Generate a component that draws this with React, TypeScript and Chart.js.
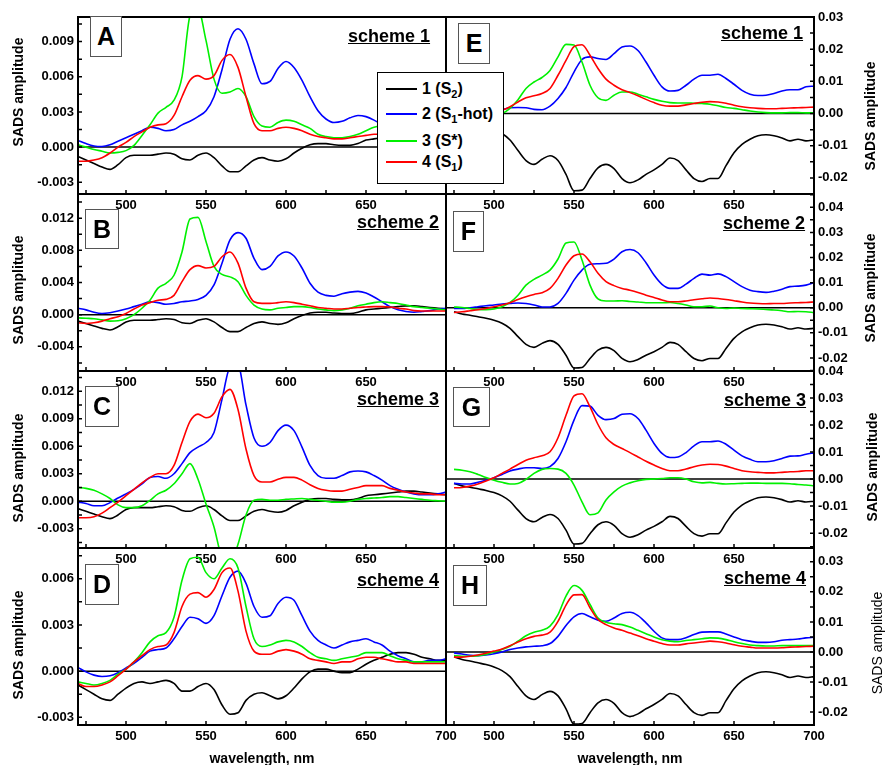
import React, { useEffect, useRef } from 'react';
import { Chart, registerables } from 'chart.js';
Chart.register(...registerables);

const FONT = '"Liberation Sans", Arial, Helvetica, sans-serif';

// ---------- data ----------
const WL_LEFT = [470, 475, 480, 485, 490, 495, 500, 505, 510, 515, 520, 525, 530, 535, 540, 545, 550, 555, 560, 565, 570, 575, 580, 585, 590, 595, 600, 605, 610, 615, 620, 625, 630, 635, 640, 645, 650, 655, 660, 665, 670, 675, 680, 685, 690, 695, 700];
const WL_RIGHT = [475, 480, 485, 490, 495, 500, 505, 510, 515, 520, 525, 530, 535, 540, 545, 550, 555, 560, 565, 570, 575, 580, 585, 590, 595, 600, 605, 610, 615, 620, 625, 630, 635, 640, 645, 650, 655, 660, 665, 670, 675, 680, 685, 690, 695, 700];

const X_LABELS_UPPER = [500, 550, 600, 650];
const X_LABELS_LOWER = [500, 550, 600, 650, 700];
const X_TICK_MARKS = [475, 500, 525, 550, 575, 600, 625, 650, 675, 700];

const Y_TICKS_A = [-0.003, 0, 0.003, 0.006, 0.009];
const Y_TICKS_B = [-0.004, 0, 0.004, 0.008, 0.012];
const Y_TICKS_C = [-0.003, 0, 0.003, 0.006, 0.009, 0.012];
const Y_TICKS_D = [-0.003, 0, 0.003, 0.006];
const Y_TICKS_E = [-0.02, -0.01, 0, 0.01, 0.02, 0.03];
const Y_TICKS_F = [-0.02, -0.01, 0, 0.01, 0.02, 0.03, 0.04];
const Y_TICKS_G = [-0.02, -0.01, 0, 0.01, 0.02, 0.03, 0.04];
const Y_TICKS_H = [-0.02, -0.01, 0, 0.01, 0.02, 0.03];

// left panels (470-700 nm)
const BLACK_ABC = [
  -0.0008, -0.0011, -0.0014, -0.0017, -0.0019, -0.0015, -0.0009, -0.0007, -0.0007, -0.0007,
  -0.0006, -0.0005, -0.0006, -0.001, -0.0011, -0.0007, -0.0005, -0.0009, -0.0016, -0.0021,
  -0.0021, -0.0016, -0.0011, -0.0009, -0.0011, -0.0012, -0.001, -0.0005, -0.0001, 0.0002,
  0.0003, 0.0003, 0.0002, 0.00015, 0.00015, 0.0003, 0.0006, 0.0007, 0.0008, 0.0009,
  0.001, 0.0011, 0.0011, 0.001, 0.0009, 0.0008, 0.0007];
const BLUE_A = [
  0.00057, 0.0003, 0.0001, 0.00005, 0.0002, 0.0005, 0.0008, 0.0011, 0.0014, 0.0017,
  0.0016, 0.0014, 0.0015, 0.0019, 0.0022, 0.0026, 0.0031, 0.0043, 0.0066, 0.0092,
  0.0101, 0.0092, 0.0071, 0.0054, 0.0056, 0.0067, 0.0073, 0.0068, 0.0057, 0.0043,
  0.0031, 0.0024, 0.0021, 0.0022, 0.0025, 0.0027, 0.0026, 0.0023, 0.0019, 0.0014,
  0.001, 0.0007, 0.0005, 0.0004, 0.0005, 0.0006, 0.0008];
const GREEN_A = [
  0.0002, 0.0, -0.0002, -0.00035, -0.0005, -0.00045, -0.0003, 0.00015, 0.001, 0.0019,
  0.0029, 0.0034, 0.004, 0.006, 0.0112, 0.0118, 0.0091, 0.0058, 0.0046, 0.0047,
  0.005, 0.0043, 0.0026, 0.0018, 0.0017, 0.0021, 0.0023, 0.0022, 0.0019, 0.0016,
  0.0011, 0.0009, 0.0008, 0.0008, 0.0009, 0.0011, 0.0014, 0.0017, 0.0018, 0.0018,
  0.0017, 0.0015, 0.0012, 0.001, 0.0008, 0.0007, 0.0006];
const RED_A = [
  -0.0012, -0.0012, -0.0011, -0.0009, -0.0005, 0.0, 0.0004, 0.0009, 0.0013, 0.0017,
  0.0019, 0.002, 0.0027, 0.0043, 0.0057, 0.0061, 0.0058, 0.0061, 0.0074, 0.0079,
  0.0068, 0.0043, 0.002, 0.0014, 0.0014, 0.0016, 0.0017, 0.0016, 0.0014, 0.0011,
  0.0009, 0.0008, 0.0007, 0.0007, 0.0008, 0.0009, 0.001, 0.0011, 0.0011, 0.001,
  0.001, 0.0009, 0.0008, 0.0007, 0.0006, 0.0006, 0.0005];
const BLUE_B = [
  0.0008, 0.0006, 0.0003, 0.00015, 0.00025, 0.00045, 0.0007, 0.001, 0.0013, 0.0016,
  0.0015, 0.0013, 0.0014, 0.0016, 0.0017, 0.0019, 0.0024, 0.0037, 0.0064, 0.0093,
  0.0102, 0.0095, 0.007, 0.0056, 0.006, 0.0073, 0.0078, 0.0073, 0.0058, 0.0039,
  0.0028, 0.0024, 0.0023, 0.0026, 0.0028, 0.0029, 0.0027, 0.0022, 0.0016, 0.001,
  0.0006, 0.0004, 0.0003, 0.0004, 0.0005, 0.0007, 0.0008];
const GREEN_B = [
  -0.0004, -0.00045, -0.0005, -0.00065, -0.0008, -0.00075, -0.0005, 0.0, 0.0008, 0.0018,
  0.0033, 0.0039, 0.0049, 0.0078, 0.0119, 0.0121, 0.0091, 0.006, 0.005, 0.0047,
  0.0041, 0.0024, 0.0012, 0.0007, 0.0006, 0.0008, 0.0009, 0.001, 0.001, 0.0009,
  0.0007, 0.0006, 0.0005, 0.0006, 0.0008, 0.0011, 0.0013, 0.0015, 0.0016, 0.0015,
  0.0014, 0.0012, 0.001, 0.0009, 0.0008, 0.0007, 0.0006];
const RED_B = [
  -0.001, -0.0011, -0.001, -0.0008, -0.0005, -0.00025, 0.00015, 0.0007, 0.0012, 0.0015,
  0.0018, 0.0019, 0.0024, 0.0041, 0.0056, 0.0061, 0.0058, 0.006, 0.0072, 0.0078,
  0.0064, 0.0033, 0.0016, 0.0014, 0.0014, 0.0015, 0.0016, 0.0015, 0.0013, 0.0011,
  0.0009, 0.0008, 0.0007, 0.0007, 0.0008, 0.0009, 0.00095, 0.001, 0.001, 0.00095,
  0.0008, 0.0007, 0.0005, 0.00045, 0.00045, 0.00045, 0.00045];
const BLUE_C = [
  -0.0001, -0.00025, -0.0005, -0.0005, -0.00015, 0.00035, 0.0008, 0.0013, 0.0019, 0.0026,
  0.0027, 0.0025, 0.003, 0.0041, 0.0053, 0.0059, 0.0064, 0.0075, 0.0111, 0.0146,
  0.0148, 0.0105, 0.0069, 0.006, 0.0064, 0.0077, 0.0083, 0.0077, 0.0059, 0.0039,
  0.0028, 0.0025, 0.0025, 0.0028, 0.0032, 0.0033, 0.0032, 0.0028, 0.0023, 0.0017,
  0.0013, 0.001, 0.0008, 0.0007, 0.0007, 0.0008, 0.001];
const GREEN_C = [
  0.0015, 0.0014, 0.0012, 0.0008, 0.0003, -0.0004, -0.0007, -0.0007, -0.0005, 0.0001,
  0.0008, 0.0012, 0.0019, 0.003, 0.0041, 0.0024, -0.0003, -0.0028, -0.0062, -0.0068,
  -0.0047, -0.0015, 0.0001, 0.0002, 0.0001, 0.0001, 0.0002, 0.00025, 0.0003, 0.0002,
  0.0001, 0.0, -0.0001, -0.0001, 0.0, 0.0002, 0.0003, 0.00035, 0.0004, 0.0005,
  0.0005, 0.0004, 0.0003, 0.0002, 0.0001, 0.00005, 0.0];
const RED_C = [
  -0.0018, -0.0018, -0.0017, -0.0013, -0.0007, -0.0001, 0.0006, 0.0013, 0.002, 0.0026,
  0.003, 0.003, 0.0039, 0.0064, 0.0087, 0.0095, 0.0091, 0.0096, 0.0114, 0.0122,
  0.01, 0.0057, 0.0028, 0.0021, 0.0021, 0.0024, 0.0026, 0.0026, 0.0023, 0.0018,
  0.0014, 0.0012, 0.0011, 0.0011, 0.0013, 0.0015, 0.0017, 0.0017, 0.0017, 0.0014,
  0.0012, 0.001, 0.0009, 0.0008, 0.0008, 0.0007, 0.0007];
const BLACK_D = [
  -0.0009, -0.0012, -0.0015, -0.0018, -0.0019, -0.0015, -0.0011, -0.0008, -0.0007, -0.0008,
  -0.0007, -0.0006, -0.0008, -0.0013, -0.0013, -0.001, -0.0008, -0.0012, -0.0022, -0.0028,
  -0.0027, -0.0019, -0.0015, -0.0014, -0.0016, -0.0018, -0.0016, -0.0011, -0.0005, -0.00005,
  0.00013, 0.00013, 0.0, -0.0001, -0.0001, 0.00013, 0.00045, 0.0007, 0.0009, 0.0011,
  0.0012, 0.0012, 0.0011, 0.0009, 0.0008, 0.0007, 0.0007];
const BLUE_D = [
  0.00024, -0.00005, -0.00026, -0.00035, -0.0003, -0.0001, 0.0002, 0.0005, 0.0009, 0.0013,
  0.0014, 0.0015, 0.0021, 0.0029, 0.0035, 0.0034, 0.0031, 0.0036, 0.0049, 0.0061,
  0.0065, 0.0057, 0.0042, 0.0035, 0.0036, 0.0044, 0.0048, 0.0046, 0.0036, 0.0026,
  0.002, 0.0017, 0.0015, 0.0017, 0.0019, 0.002, 0.0021, 0.0019, 0.0017, 0.0013,
  0.001, 0.0008, 0.0006, 0.0006, 0.0007, 0.0007, 0.0008];
const GREEN_D = [
  -0.0007, -0.0008, -0.0009, -0.0008, -0.0006, -0.0002, 0.00013, 0.0006, 0.0012, 0.0019,
  0.0023, 0.0025, 0.0035, 0.0059, 0.0073, 0.0074, 0.0064, 0.006, 0.0067, 0.0073,
  0.0067, 0.0042, 0.0021, 0.0016, 0.0017, 0.0019, 0.002, 0.0019, 0.0016, 0.0012,
  0.0009, 0.0008, 0.0007, 0.0008, 0.0009, 0.001, 0.0012, 0.0012, 0.0012, 0.001,
  0.0008, 0.0007, 0.0006, 0.0006, 0.0006, 0.0006, 0.0006];
const RED_D = [
  -0.0008, -0.001, -0.001, -0.0009, -0.0007, -0.0003, 0.00013, 0.0006, 0.001, 0.0014,
  0.0016, 0.0017, 0.0025, 0.0042, 0.005, 0.0051, 0.0048, 0.0053, 0.0064, 0.0067,
  0.0052, 0.0026, 0.0013, 0.0011, 0.0011, 0.0013, 0.0014, 0.0013, 0.0011, 0.0008,
  0.0007, 0.0006, 0.0005, 0.0006, 0.0006, 0.0008, 0.0009, 0.0009, 0.0008, 0.0007,
  0.0006, 0.0006, 0.0005, 0.0005, 0.0005, 0.0005, 0.0005];

// right panels (475-700 nm)
const BLACK_EFGH = [
  -0.0016, -0.0025, -0.003, -0.0036, -0.0042, -0.005, -0.0062, -0.0082, -0.0115, -0.0146,
  -0.0158, -0.0142, -0.0131, -0.0146, -0.0189, -0.024, -0.0238, -0.0202, -0.0169, -0.0158,
  -0.0171, -0.0202, -0.0215, -0.0206, -0.0189, -0.0175, -0.0158, -0.0138, -0.0146, -0.0175,
  -0.0202, -0.0211, -0.0202, -0.0202, -0.0162, -0.0122, -0.0096, -0.008, -0.0069, -0.0066,
  -0.0069, -0.0076, -0.0085, -0.008, -0.0085, -0.0082];
const BLUE_E = [
  0.0002, 0.0003, 0.0005, 0.0007, 0.0009, 0.001, 0.0012, 0.0018, 0.0019, 0.0018,
  0.0013, 0.0012, 0.0023, 0.0047, 0.0081, 0.0129, 0.0168, 0.0176, 0.0171, 0.0168,
  0.0186, 0.0207, 0.021, 0.0196, 0.016, 0.0119, 0.0083, 0.007, 0.0072, 0.0088,
  0.0107, 0.0119, 0.0119, 0.0122, 0.0109, 0.0091, 0.0072, 0.006, 0.0056, 0.0057,
  0.0062, 0.007, 0.0074, 0.0074, 0.0083, 0.0085];
const GREEN_E = [
  0.0003, 0.0002, 0.0, -0.0003, -0.0004, -0.0003, 0.0, 0.0016, 0.0043, 0.0078,
  0.0098, 0.0112, 0.0134, 0.0176, 0.0215, 0.0213, 0.016, 0.0088, 0.0049, 0.0041,
  0.0057, 0.0067, 0.0067, 0.006, 0.0052, 0.0044, 0.0038, 0.0034, 0.0033, 0.0033,
  0.0032, 0.0031, 0.0029, 0.0024, 0.0019, 0.0016, 0.0012, 0.0008, 0.0005, 0.0003,
  0.0002, 0.0002, 0.0003, 0.0003, 0.0002, 0.0002];
const RED_E = [
  -0.0015, -0.0013, -0.001, -0.0007, -0.0003, 0.0003, 0.001, 0.0021, 0.0036, 0.0049,
  0.0055, 0.0062, 0.0078, 0.0119, 0.0165, 0.0208, 0.0214, 0.0181, 0.014, 0.0107,
  0.0088, 0.0074, 0.0065, 0.0055, 0.0044, 0.0034, 0.0026, 0.0023, 0.0023, 0.0027,
  0.0031, 0.0035, 0.0037, 0.0036, 0.0032, 0.0026, 0.0021, 0.0018, 0.0016, 0.0015,
  0.0015, 0.0016, 0.0017, 0.0018, 0.0019, 0.002];
const BLUE_F = [
  -0.0003, -0.0003, 0.0, 0.0004, 0.0008, 0.0011, 0.0015, 0.0017, 0.0019, 0.0017,
  0.0011, 0.0003, 0.0003, 0.0017, 0.0057, 0.011, 0.015, 0.0173, 0.0175, 0.0177,
  0.0194, 0.0223, 0.0232, 0.0219, 0.0179, 0.013, 0.0093, 0.0077, 0.0077, 0.0094,
  0.0117, 0.0134, 0.013, 0.0135, 0.0124, 0.0104, 0.0084, 0.007, 0.0064, 0.0061,
  0.0066, 0.0074, 0.0084, 0.0086, 0.009, 0.01];
const GREEN_F = [
  0.0003, 0.0001, -0.0003, -0.0007, -0.0008, -0.0005, 0.0004, 0.0021, 0.005, 0.009,
  0.0113, 0.013, 0.015, 0.0194, 0.0258, 0.0262, 0.019, 0.009, 0.0035, 0.0027,
  0.0027, 0.0028, 0.0025, 0.0023, 0.002, 0.002, 0.002, 0.0021, 0.0017, 0.0011,
  0.0004, 0.0004, 0.0007, 0.0, -0.0003, -0.0001, -0.0003, -0.0004, -0.0005, -0.0007,
  -0.0009, -0.0012, -0.0016, -0.0015, -0.0016, -0.0019];
const RED_F = [
  -0.0019, -0.0016, -0.0012, -0.0008, -0.0003, 0.0004, 0.0011, 0.002, 0.0033, 0.0044,
  0.0053, 0.006, 0.0077, 0.0117, 0.017, 0.0207, 0.0214, 0.0183, 0.0137, 0.0104,
  0.0088, 0.0077, 0.007, 0.0061, 0.005, 0.0041, 0.0031, 0.0024, 0.0024, 0.0027,
  0.0032, 0.0036, 0.0039, 0.0037, 0.0033, 0.0028, 0.0023, 0.0019, 0.0017, 0.0016,
  0.0017, 0.0017, 0.0019, 0.002, 0.0021, 0.0023];
const BLUE_G = [
  -0.0016, -0.0018, -0.0018, -0.0012, -0.0004, 0.0005, 0.0017, 0.003, 0.0037, 0.0042,
  0.0042, 0.0039, 0.0046, 0.0076, 0.0138, 0.0218, 0.0272, 0.027, 0.0236, 0.022,
  0.0224, 0.024, 0.0242, 0.0224, 0.0181, 0.0132, 0.0095, 0.008, 0.0082, 0.0098,
  0.0123, 0.0138, 0.0138, 0.0141, 0.0129, 0.0107, 0.0086, 0.0073, 0.0064, 0.0064,
  0.0068, 0.0076, 0.0085, 0.0086, 0.0092, 0.0097];
const GREEN_G = [
  0.0036, 0.0033, 0.0027, 0.0017, 0.0006, -0.0004, -0.0012, -0.0018, -0.0016, -0.0001,
  0.0021, 0.0036, 0.0039, 0.0037, 0.0021, -0.0022, -0.0084, -0.0132, -0.0125, -0.0077,
  -0.0047, -0.0026, -0.0014, -0.0006, -0.0001, 0.0, 0.0002, 0.0005, 0.0005, 0.0,
  -0.001, -0.0014, -0.0012, -0.0016, -0.0018, -0.0017, -0.0016, -0.0015, -0.0015, -0.0016,
  -0.0016, -0.0016, -0.0017, -0.002, -0.0022, -0.0025];
const RED_G = [
  -0.0032, -0.0031, -0.0026, -0.0018, -0.0007, 0.0005, 0.0021, 0.0037, 0.0054, 0.007,
  0.0079, 0.0086, 0.0101, 0.0153, 0.0236, 0.0308, 0.0316, 0.0267, 0.0202, 0.0153,
  0.0128, 0.0113, 0.0098, 0.0082, 0.0066, 0.0052, 0.0039, 0.0031, 0.0031, 0.0037,
  0.0046, 0.0052, 0.0055, 0.0054, 0.0048, 0.0039, 0.0031, 0.0027, 0.0025, 0.0023,
  0.0023, 0.0025, 0.0027, 0.0028, 0.0031, 0.0031];
const BLUE_H = [
  -0.0003, -0.0007, -0.0011, -0.0012, -0.001, -0.0006, 0.0, 0.0008, 0.0013, 0.0017,
  0.0019, 0.0021, 0.0028, 0.0052, 0.0088, 0.0117, 0.0128, 0.0117, 0.0106, 0.0102,
  0.0113, 0.0128, 0.0132, 0.0121, 0.0097, 0.0069, 0.0047, 0.0041, 0.0041, 0.0047,
  0.0058, 0.0066, 0.0067, 0.0067, 0.006, 0.005, 0.0041, 0.0036, 0.0032, 0.0032,
  0.0034, 0.0039, 0.0041, 0.0043, 0.0047, 0.0049];
const GREEN_H = [
  -0.0012, -0.0014, -0.0014, -0.0012, -0.0008, 0.0, 0.0008, 0.0019, 0.0036, 0.0054,
  0.0066, 0.0072, 0.0086, 0.0124, 0.0186, 0.0221, 0.0205, 0.0158, 0.0113, 0.0099,
  0.0094, 0.0091, 0.0083, 0.0072, 0.0061, 0.005, 0.0041, 0.0036, 0.0034, 0.0038,
  0.0041, 0.0044, 0.0047, 0.0046, 0.0041, 0.0034, 0.0028, 0.0023, 0.0021, 0.002,
  0.002, 0.0021, 0.0021, 0.0021, 0.0021, 0.0021];
const RED_H = [
  -0.0017, -0.0017, -0.0014, -0.001, -0.0004, 0.0003, 0.001, 0.0021, 0.0033, 0.0044,
  0.0052, 0.0056, 0.0066, 0.0102, 0.0156, 0.019, 0.0191, 0.0147, 0.0108, 0.0091,
  0.008, 0.0072, 0.0063, 0.0054, 0.0044, 0.0036, 0.0028, 0.0023, 0.0023, 0.0027,
  0.003, 0.0033, 0.0036, 0.0034, 0.003, 0.0024, 0.0019, 0.0016, 0.0013, 0.0013,
  0.0013, 0.0014, 0.0016, 0.0017, 0.0018, 0.0019];

const SERIES_COLORS = ['#000000', '#0000ff', '#00f000', '#ff0000'];

// ---------- layout ----------
const ROW_TOPS = [17, 194, 371, 548];
const PANEL_H = 177;
const PAD_TOP = 12;
const X_AXIS_H = 28;

type Panel = {
  side: 'left' | 'right';
  row: number;
  wl: number[];
  series: number[][];
  yMin: number;
  yMax: number;
  yTicks: number[];
  yMinor: number;
  dec: number;
  xLabels: number[];
};

const PANELS: Panel[] = [
  { side: 'left', row: 0, wl: WL_LEFT, series: [BLACK_ABC, BLUE_A, GREEN_A, RED_A], yMin: -0.004, yMax: 0.0111, yTicks: Y_TICKS_A, yMinor: 0.0015, dec: 3, xLabels: X_LABELS_UPPER },
  { side: 'left', row: 1, wl: WL_LEFT, series: [BLACK_ABC, BLUE_B, GREEN_B, RED_B], yMin: -0.007, yMax: 0.015, yTicks: Y_TICKS_B, yMinor: 0.002, dec: 3, xLabels: X_LABELS_UPPER },
  { side: 'left', row: 2, wl: WL_LEFT, series: [BLACK_ABC, BLUE_C, GREEN_C, RED_C], yMin: -0.0051, yMax: 0.0142, yTicks: Y_TICKS_C, yMinor: 0.0015, dec: 3, xLabels: X_LABELS_UPPER },
  { side: 'left', row: 3, wl: WL_LEFT, series: [BLACK_D, BLUE_D, GREEN_D, RED_D], yMin: -0.0035, yMax: 0.008, yTicks: Y_TICKS_D, yMinor: 0.0015, dec: 3, xLabels: X_LABELS_LOWER },
  { side: 'right', row: 0, wl: WL_RIGHT, series: [BLACK_EFGH, BLUE_E, GREEN_E, RED_E], yMin: -0.025, yMax: 0.03, yTicks: Y_TICKS_E, yMinor: 0.005, dec: 2, xLabels: X_LABELS_UPPER },
  { side: 'right', row: 1, wl: WL_RIGHT, series: [BLACK_EFGH, BLUE_F, GREEN_F, RED_F], yMin: -0.0252, yMax: 0.0453, yTicks: Y_TICKS_F, yMinor: 0.005, dec: 2, xLabels: X_LABELS_UPPER },
  { side: 'right', row: 2, wl: WL_RIGHT, series: [BLACK_EFGH, BLUE_G, GREEN_G, RED_G], yMin: -0.0255, yMax: 0.04, yTicks: Y_TICKS_G, yMinor: 0.005, dec: 2, xLabels: X_LABELS_UPPER },
  { side: 'right', row: 3, wl: WL_RIGHT, series: [BLACK_EFGH, BLUE_H, GREEN_H, RED_H], yMin: -0.0243, yMax: 0.0346, yTicks: Y_TICKS_H, yMinor: 0.005, dec: 2, xLabels: X_LABELS_LOWER },
];

const LETTERS = [
  { t: 'A', x: 90, y: 16, w: 32, h: 41 },
  { t: 'B', x: 85, y: 209, w: 34, h: 40 },
  { t: 'C', x: 85, y: 386, w: 34, h: 41 },
  { t: 'D', x: 85, y: 564, w: 34, h: 41 },
  { t: 'E', x: 458, y: 23, w: 32, h: 41 },
  { t: 'F', x: 453, y: 211, w: 31, h: 41 },
  { t: 'G', x: 453, y: 387, w: 37, h: 40 },
  { t: 'H', x: 453, y: 565, w: 34, h: 41 },
];

const SCHEMES = [
  { t: 'scheme 1', x: 348, base: 42 },
  { t: 'scheme 2', x: 357, base: 228 },
  { t: 'scheme 3', x: 357, base: 405 },
  { t: 'scheme 4', x: 357, base: 586 },
  { t: 'scheme 1', x: 721, base: 39 },
  { t: 'scheme 2', x: 723, base: 229 },
  { t: 'scheme 3', x: 724, base: 406 },
  { t: 'scheme 4', x: 724, base: 584 },
];

const Y_TITLES = [
  { x: 18, y: 92, bold: true },
  { x: 18, y: 290, bold: true },
  { x: 18, y: 468, bold: true },
  { x: 18, y: 645, bold: true },
  { x: 870, y: 116, bold: true },
  { x: 870, y: 288, bold: true },
  { x: 872, y: 467, bold: true },
  { x: 877, y: 643, bold: false },
];

const LEGEND_ROWS = [
  { num: '1', sub: '2', tail: '' },
  { num: '2', sub: '1', tail: '-hot' },
  { num: '3', sub: '', tail: '*' },
  { num: '4', sub: '1', tail: '' },
];
const LEGEND_Y = [89, 114, 141, 162];

function PanelChart({ p }: { p: Panel }) {
  const ref = useRef<HTMLCanvasElement>(null);
  const isLeft = p.side === 'left';
  const canvasLeft = isLeft ? 0 : 420;
  const canvasW = isLeft ? 470 : 465;
  const canvasTop = ROW_TOPS[p.row] - PAD_TOP;
  const canvasH = PAD_TOP + PANEL_H + X_AXIS_H;

  useEffect(() => {
    if (!ref.current) return;
    const half = p.yMinor;
    const minor: number[] = [];
    for (let k = Math.ceil(p.yMin / half - 1e-9); k <= Math.floor(p.yMax / half + 1e-9); k++) minor.push(k * half);

    const frame = {
      id: 'frame',
      beforeDatasetsDraw(chart: any) {
        const { ctx, chartArea: a, scales } = chart;
        const y0 = scales.y.getPixelForValue(0);
        ctx.save();
        ctx.strokeStyle = '#000';
        ctx.lineWidth = 1.5;
        ctx.beginPath();
        ctx.moveTo(a.left, y0);
        ctx.lineTo(a.right, y0);
        ctx.stroke();
        ctx.restore();
      },
      afterDatasetsDraw(chart: any) {
        const { ctx, chartArea: a, scales } = chart;
        ctx.save();
        ctx.strokeStyle = '#000';
        ctx.lineWidth = 1.5;
        ctx.beginPath();
        X_TICK_MARKS.forEach((v) => {
          const px = scales.x.getPixelForValue(v);
          ctx.moveTo(px, a.bottom);
          ctx.lineTo(px, a.bottom - 4);
        });
        minor.forEach((v) => {
          const py = scales.y.getPixelForValue(v);
          if (isLeft) {
            ctx.moveTo(a.left, py);
            ctx.lineTo(a.left + 4, py);
          } else {
            ctx.moveTo(a.right, py);
            ctx.lineTo(a.right - 4, py);
          }
        });
        ctx.stroke();
        ctx.lineWidth = 2;
        ctx.strokeRect(a.left, a.top, a.right - a.left, a.bottom - a.top);
        ctx.restore();
      },
    };

    const tickFont = { family: FONT, size: 13, weight: 'bold' as const };
    const chart = new Chart(ref.current, {
      type: 'line',
      data: {
        datasets: p.series.map((vals, i) => ({
          data: p.wl.map((w, j) => ({ x: w, y: vals[j] })),
          borderColor: SERIES_COLORS[i],
          borderWidth: 1.6,
          pointRadius: 0,
          fill: false,
          cubicInterpolationMode: 'monotone' as const,
          order: 4 - i,
        })),
      },
      options: {
        responsive: false,
        animation: false,
        events: [],
        layout: { padding: { left: isLeft ? 0 : 26, right: isLeft ? 24 : 0, top: PAD_TOP, bottom: 0 } },
        plugins: { legend: { display: false }, tooltip: { enabled: false } },
        scales: {
          x: {
            type: 'linear',
            min: 470,
            max: 700,
            grid: { display: false, drawTicks: false },
            border: { display: false },
            ticks: { font: tickFont, color: '#000', padding: 4, maxRotation: 0, autoSkip: false, callback: (v: any) => String(v) },
            afterBuildTicks: (s: any) => { s.ticks = p.xLabels.map((v) => ({ value: v })); },
            afterFit: (s: any) => { s.height = X_AXIS_H; },
          },
          y: {
            type: 'linear',
            position: isLeft ? 'left' : 'right',
            min: p.yMin,
            max: p.yMax,
            grid: { display: false, drawTicks: false },
            border: { display: false },
            ticks: { font: tickFont, color: '#000', padding: 4, autoSkip: false, callback: (v: any) => Number(v).toFixed(p.dec) },
            afterBuildTicks: (s: any) => { s.ticks = p.yTicks.map((v) => ({ value: v })); },
            afterFit: (s: any) => { s.width = isLeft ? 78 : 71; },
          },
        },
      } as any,
      plugins: [frame],
    });
    return () => chart.destroy();
  }, [p]);

  return (
    <canvas
      ref={ref}
      width={canvasW}
      height={canvasH}
      style={{ position: 'absolute', left: canvasLeft, top: canvasTop, width: canvasW, height: canvasH }}
    />
  );
}

export default function App() {
  return (
    <div style={{ position: 'absolute', left: 0, top: 0, width: 885, height: 765, background: '#fff', fontFamily: FONT, overflow: 'hidden' }}>
      {PANELS.map((p, i) => (
        <PanelChart key={i} p={p} />
      ))}
      {LETTERS.map((l) => (
        <div
          key={l.t}
          style={{
            position: 'absolute', left: l.x, top: l.y, width: l.w, height: l.h, boxSizing: 'border-box',
            border: '1px solid #555', background: '#fff', display: 'flex', alignItems: 'center', justifyContent: 'center',
            fontSize: 25, fontWeight: 'bold', color: '#000',
          }}
        >
          {l.t}
        </div>
      ))}
      {SCHEMES.map((s, i) => (
        <div
          key={i}
          style={{
            position: 'absolute', left: s.x, top: s.base - 15, fontSize: 18, lineHeight: '18px', fontWeight: 'bold',
            textDecoration: 'underline', whiteSpace: 'nowrap', color: '#000',
          }}
        >
          {s.t}
        </div>
      ))}
      {Y_TITLES.map((t, i) => (
        <div
          key={i}
          style={{
            position: 'absolute', left: t.x, top: t.y, transform: 'translate(-50%, -50%) rotate(-90deg)',
            fontSize: 14, fontWeight: t.bold ? 'bold' : 'normal', whiteSpace: 'nowrap', color: '#000', lineHeight: '16px',
          }}
        >
          SADS amplitude
        </div>
      ))}
      {[262, 630].map((cx, i) => (
        <div
          key={i}
          style={{
            position: 'absolute', left: cx, top: 758, transform: 'translate(-50%, -50%)', fontSize: 14,
            fontWeight: 'bold', whiteSpace: 'nowrap', color: '#000',
          }}
        >
          wavelength, nm
        </div>
      ))}
      <div
        style={{
          position: 'absolute', left: 377, top: 72, width: 127, height: 112, boxSizing: 'border-box',
          border: '1px solid #000', background: '#fff',
        }}
      />
      {LEGEND_ROWS.map((r, i) => (
        <React.Fragment key={i}>
          <div style={{ position: 'absolute', left: 386, top: LEGEND_Y[i] - 1, width: 31, height: 2, background: SERIES_COLORS[i] }} />
          <div
            style={{
              position: 'absolute', left: 422, top: LEGEND_Y[i] - 10, height: 20, lineHeight: '20px', fontSize: 16,
              fontWeight: 'bold', whiteSpace: 'nowrap', color: '#000',
            }}
          >
            {r.num} (S{r.sub ? <span style={{ fontSize: 11, verticalAlign: -4 }}>{r.sub}</span> : null}{r.tail})
          </div>
        </React.Fragment>
      ))}
    </div>
  );
}
